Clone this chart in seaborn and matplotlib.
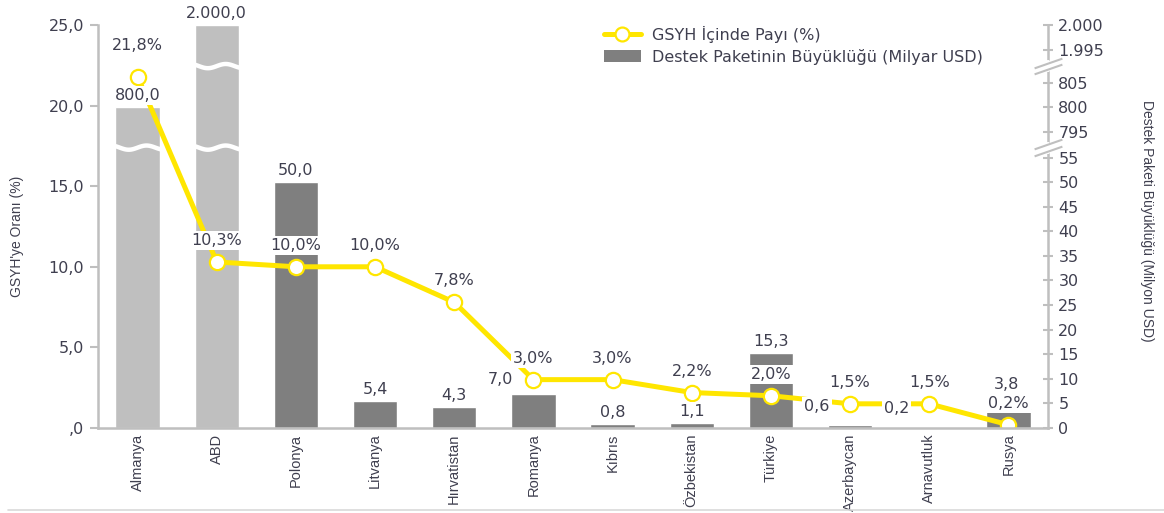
import numpy as np
import pandas as pd
import matplotlib
matplotlib.use("Agg")
import matplotlib.pyplot as plt
import matplotlib.transforms as mtransforms
from matplotlib.lines import Line2D
from matplotlib.patches import Patch
import seaborn as sns

# Data
countries = ["Almanya", "ABD", "Polonya", "Litvanya", "Hırvatistan", "Romanya",
             "Kıbrıs", "Özbekistan", "Türkiye", "Azerbaycan", "Arnavutluk", "Rusya"]
package_bn_usd = [800.0, 2000.0, 50.0, 5.4, 4.3, 7.0, 0.8, 1.1, 15.3, 0.6, 0.2, 3.8]
gdp_share_pct = [21.8, 10.3, 10.0, 10.0, 7.8, 3.0, 3.0, 2.2, 2.0, 1.5, 1.5, 0.2]

left_ticks = [0, 5, 10, 15, 20, 25]
left_tick_labels = [",0", "5,0", "10,0", "15,0", "20,0", "25,0"]
right_ticks = [0, 5, 10, 15, 20, 25, 30, 35, 40, 45, 50, 55, 795, 800, 805, 1995, 2000]
right_tick_labels = ["0", "5", "10", "15", "20", "25", "30", "35", "40", "45", "50", "55",
                     "795", "800", "805", "1.995", "2.000"]

legend_labels = ["GSYH İçinde Payı (%)", "Destek Paketinin Büyüklüğü (Milyar USD)"]
left_label = "GSYH'ye Oranı (%)"
right_label = "Destek Paketi Büyüklüğü (Milyon USD)"

# Styling
YELLOW = "#FFE600"
LIGHT = "#BFBFBF"
DARK = "#7F7F7F"
SPINE = "#BFBFBF"
TXT = "#3F3F4F"
highlight = {"Almanya", "ABD"}
bar_colors = [LIGHT if c in highlight else DARK for c in countries]
# label nudges in pixels (bar value labels that sit beside / above other labels)
bar_label_offset = {"Romanya": (-33, 7), "Azerbaycan": (-33, 11),
                    "Arnavutluk": (-33, 11), "Rusya": (-2, 17)}
pct_label_offset = {"Almanya": (0, 24)}

# broken right axis: piecewise linear scale onto the left axis units
S = 0.305
rv = np.array([0, 56.8, 792, 808, 1992, 2000, 3000])
lv = np.array([0, S * 56.8, 19.9 + S * (792 - 800), 19.9 + S * (808 - 800),
               25 + S * (1992 - 2000), 25, 25 + S * 1000])


def fwd(v):
    return np.interp(v, rv, lv)


def inv(y):
    return np.interp(y, lv, rv)


def tr_num(v):
    return f"{v:,.1f}".replace(",", "X").replace(".", ",").replace("X", ".")


df = pd.DataFrame({"country": countries, "size": package_bn_usd, "share": gdp_share_pct})

sns.set_style("white")
plt.rcParams["font.family"] = ["DejaVu Sans"]
narrow = ["Liberation Sans", "DejaVu Sans"]

fig = plt.figure(figsize=(11.64, 5.13), dpi=100)
ax = fig.add_axes([0.0842, 0.1657, 0.9003 - 0.0842, 0.9513 - 0.1657])
ax2 = ax.twinx()

# bars on the right (broken) axis
sns.barplot(data=df, x="country", y="size", hue="country", palette=bar_colors,
            legend=False, width=0.56, saturation=1, ax=ax2)
ax2.set_yscale("function", functions=(fwd, inv))
ax2.set_ylim(0, 2000)

# line on the left axis
sns.pointplot(data=df, x="country", y="share", color=YELLOW, markers="o",
              linestyles="-", errorbar=None, ax=ax)
for ln in ax.lines:
    ln.set_linewidth(3.6)
    ln.set_markersize(11)
    ln.set_markerfacecolor("white")
    ln.set_markeredgecolor(YELLOW)
    ln.set_markeredgewidth(1.6)
    ln.set_zorder(2)

ax.set_zorder(ax2.get_zorder() + 1)
ax.patch.set_visible(False)
ax.set_ylim(0, 25)
ax.set_xlim(-0.5, len(countries) - 0.5)

# left axis
ax.set_yticks(left_ticks)
ax.set_yticklabels(left_tick_labels)
ax.tick_params(axis="y", direction="out", length=6, width=1.5, color=SPINE,
               labelsize=11.5, labelcolor=TXT, left=True, pad=4)
ax.set_xticks(range(len(countries)))
ax.set_xticklabels(countries, rotation=90, family=narrow, fontsize=10.5, color=TXT)
ax.tick_params(axis="x", length=0, pad=4)
ax.set_xlabel("")
ax.set_ylabel(left_label, family=narrow, fontsize=10, color=TXT)
ax.yaxis.set_label_coords(-0.078, 0.475)
for side in ["top", "right"]:
    ax.spines[side].set_visible(False)
for side in ["left", "bottom"]:
    ax.spines[side].set_color(SPINE)
    ax.spines[side].set_linewidth(1.8)

# right axis
ax2.set_yticks(right_ticks)
ax2.set_yticklabels(right_tick_labels)
ax2.yaxis.set_minor_locator(matplotlib.ticker.NullLocator())
ax2.tick_params(axis="y", direction="inout", length=7, width=1.5, color=SPINE,
                labelsize=11.5, labelcolor=TXT, right=True, pad=4)
ax2.set_ylabel(right_label, family=narrow, fontsize=10, color=TXT, rotation=270)
ax2.yaxis.set_label_coords(1.112, 0.515)
for side in ["top", "left", "bottom"]:
    ax2.spines[side].set_visible(False)
ax2.spines["right"].set_color(SPINE)
ax2.spines["right"].set_linewidth(1.8)

# axis break marks (spine and broken bars)
breaks = [(lv[1] + lv[2]) / 2, (lv[3] + lv[4]) / 2]
gap_ends = [rv[2], rv[4]]
blend = mtransforms.blended_transform_factory(ax.transAxes, ax.transData)
slash = [(-1, -0.35), (1, 0.35)]
for b in breaks:
    ax.plot([1, 1], [b - 0.25, b + 0.25], transform=blend, color="white", lw=3,
            clip_on=False, zorder=5)
    for d in (-0.2, 0.2):
        ax.plot([1], [b + d], transform=blend, marker=slash, markersize=20,
                color=SPINE, mew=1.5, clip_on=False, zorder=6)
xw = np.linspace(-0.36, 0.36, 80)
for i, v in enumerate(package_bn_usd):
    for b, g in zip(breaks, gap_ends):
        if v > g:
            ax.plot(i + xw, b + 0.13 * np.sin(xw / 0.36 * np.pi * 1.6), color="white",
                    lw=3.2, zorder=1.5, solid_capstyle="butt")

# value labels
box = dict(boxstyle="square,pad=0.12", fc="white", ec="none")
for i, (c, v, p) in enumerate(zip(countries, package_bn_usd, gdp_share_pct)):
    dx, dy = bar_label_offset.get(c, (0, 4))
    ax.annotate(tr_num(v), xy=(i, v), xycoords=ax2.transData, xytext=(dx, dy),
                textcoords="offset pixels", ha="center", va="bottom", fontsize=11.5,
                color=TXT, bbox=box, zorder=3)
    dx, dy = pct_label_offset.get(c, (0, 14))
    ax.annotate(f"{p:.1f}%".replace(".", ","), xy=(i, p), xytext=(dx, dy),
                textcoords="offset pixels", ha="center", va="bottom", fontsize=11.5,
                color=TXT, bbox=box, zorder=4)

# legend
handles = [Line2D([], [], color=YELLOW, lw=3.6, marker="o", markersize=10,
                  markerfacecolor="white", markeredgecolor=YELLOW, markeredgewidth=1.6),
           Patch(facecolor=DARK, edgecolor="none")]
fig.legend(handles, legend_labels, loc="upper left", bbox_to_anchor=(0.512, 0.965),
           frameon=False, fontsize=11.5, labelcolor=TXT, handlelength=2.3,
           handletextpad=0.7, labelspacing=0.35, borderpad=0)

# thin rule along the bottom of the figure
fig.add_artist(Line2D([0.007, 1], [0.006, 0.006], color="#D9D9D9", lw=1.2))

fig.savefig("out.png", dpi=100, facecolor="white")
